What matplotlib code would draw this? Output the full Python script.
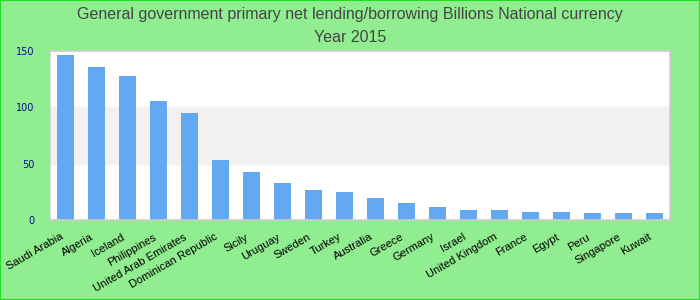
import matplotlib.pyplot as plt
import matplotlib.transforms as mtransforms

# valores
paises = ["Saudi Arabia", "Algeria", "Iceland", "Philippines", "United Arab Emirates",
          "Dominican Republic", "Sicily", "Uruguay", "Sweden", "Turkey", "Australia",
          "Greece", "Germany", "Israel", "United Kingdom", "France", "Egypt", "Peru",
          "Singapore", "Kuwait"]
valores = [146.5, 136, 128, 105.5, 95, 53.5, 42.5, 33, 26.5, 25, 19.5,
           15, 11.5, 9, 9, 7.2, 7, 6.3, 6.3, 6.3]
yticks = [0, 50, 100, 150]
titulo = "General government primary net lending/borrowing Billions National currency\nYear 2015"

fig = plt.figure(figsize=(7, 3), dpi=100, facecolor="#90ee90")
fig.patches.append(plt.Rectangle((0, 0), 1, 1, transform=fig.transFigure,
                                 fill=False, edgecolor="#22dd22", linewidth=1.5))
ax = fig.add_axes([50 / 700, 80 / 300, 620 / 700, 169 / 300])

ax.axhspan(50, 100, color="#f2f2f2", zorder=0)
ax.bar(range(len(paises)), valores, width=0.55, color="#62a9f2", zorder=2)

ax.set_xlim(-0.5, len(paises) - 0.5)
ax.set_ylim(0, 150)
ax.set_yticks(yticks)
ax.tick_params(axis="y", length=0, pad=11, labelsize=7, labelcolor="#0a0a8c")
ax.set_xticks(range(len(paises)))
ax.set_xticklabels(paises, rotation=30, ha="right", rotation_mode="anchor",
                   fontsize=8, family="Liberation Sans")
ax.tick_params(axis="x", length=0, pad=8.5)
offset = mtransforms.ScaledTranslation(-6 / 100, 0, fig.dpi_scale_trans)
for lbl in ax.get_xticklabels():
    lbl.set_transform(lbl.get_transform() + offset)

for s in ax.spines.values():
    s.set_color("#cccccc")
    s.set_linewidth(1.2)

fig.text(0.5, 0.978, titulo, ha="center", va="top", fontsize=11.5,
         color="#444444", family=["Liberation Sans Narrow", "Liberation Sans"],
         linespacing=1.7)

fig.savefig("out.png", dpi=100, facecolor=fig.get_facecolor())
